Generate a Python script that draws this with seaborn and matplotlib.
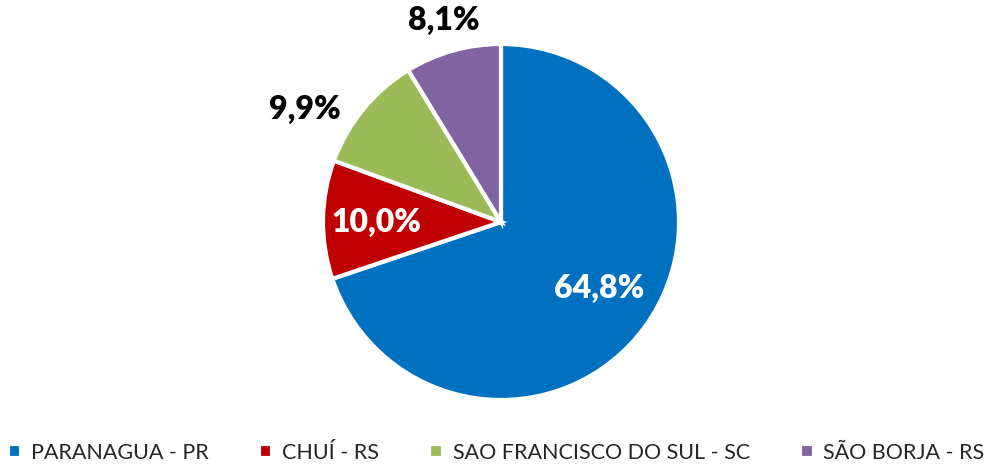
#!/usr/bin/env python3

import numpy as np
import matplotlib
matplotlib.use('Agg')
import matplotlib.pyplot as plt
import seaborn as sns

SET_DPI = 100
FIGSIZE = (9.92, 4.66)

categories = ['PARANAGUA - PR', 'CHUÍ - RS', 'SAO FRANCISCO DO SUL - SC', 'SÃO BORJA - RS']
values = [64.8, 10.0, 9.9, 8.1]
pct_labels = ['64,8%', '10,0%', '9,9%', '8,1%']

colours = ['#0070c0', '#c00000', '#9bbb59', '#8064a2']
label_colours = ['white', 'white', 'black', 'black']
# label radius and angle nudge (deg), per slice
label_radius = [0.66, 0.70, 1.28, 1.19]
label_nudge = [2.5, 0.0, 9.0, 0.0]

sns.set_style('white')
plt.rcParams['font.family'] = ['Lato', 'DejaVu Sans']

fig = plt.figure(figsize=FIGSIZE, dpi=SET_DPI)
ax = fig.add_axes([323 / 992, 66 / 466, 356 / 992, 356 / 466])

wedges, _ = ax.pie(values, colors=colours, startangle=90, counterclock=False,
                   radius=1.0,
                   wedgeprops=dict(edgecolor='white', linewidth=3))
for w in wedges:
    w.set_clip_on(False)

for i, w in enumerate(wedges):
    mid = np.deg2rad((w.theta1 + w.theta2) / 2 + label_nudge[i])
    r = label_radius[i]
    ax.text(r * np.cos(mid), r * np.sin(mid), pct_labels[i],
            ha='center', va='center_baseline', fontsize=23, fontweight='heavy',
            color=label_colours[i])

ax.set_xlim(-1, 1)
ax.set_ylim(-1, 1)
ax.set_aspect('equal')
ax.axis('off')

fig.legend(wedges, categories, loc='lower center', ncol=4, frameon=False,
           bbox_to_anchor=(0.5, -0.035), fontsize=15.5, handlelength=0.62,
           handleheight=0.62, handletextpad=0.45, columnspacing=2.35)

fig.savefig('out.png', dpi=SET_DPI)
plt.close()
